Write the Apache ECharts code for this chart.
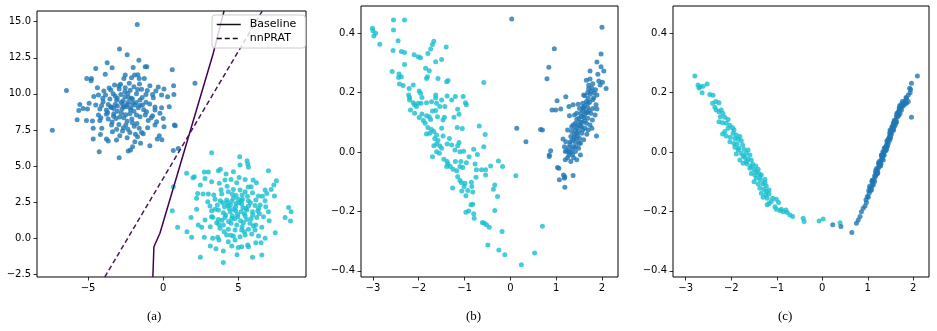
<!DOCTYPE html>
<html lang="en">
<head>
    <meta charset="UTF-8">
    <title>blobs / projections</title>
    <script src="https://cdn.jsdelivr.net/npm/echarts@6/dist/echarts.min.js"></script>
    <style>
        body { margin: 0; background: #fff; }
        #main { width: 937px; height: 331px; }
    </style>
</head>
<body>
<div id="main"></div>
<script>
    // (a) two gaussian blobs + decision lines
    let blobsBlue = [
        [-1.73,14.81],[-2.91,13.10],[-2.40,12.71],[-1.62,12.32],[-3.73,12.16],[-4.49,11.76],[-3.40,11.81],[-2.00,11.83],
        [-1.20,11.88],[-1.09,11.88],[0.60,11.67],[-3.86,11.35],[-2.53,11.30],[-1.91,11.30],[-1.69,11.33],[-5.09,11.07],
        [-4.78,11.07],[-4.80,10.91],[-2.62,11.07],[-2.11,11.12],[-1.60,11.07],[-1.26,11.07],[-6.44,10.24],[-2.26,10.73],
        [-2.84,10.66],[-3.24,10.61],[-1.58,10.68],[-0.89,10.56],[-0.33,10.47],[0.05,10.33],[0.69,10.56],[-4.38,10.43],
        [-3.95,10.19],[-3.49,10.26],[-2.93,10.33],[-2.53,10.43],[-1.95,10.49],[-1.44,10.31],[-1.06,10.24],[-0.49,10.19],
        [-4.31,9.92],[-3.84,9.92],[-3.33,10.01],[-2.82,9.96],[-2.35,10.03],[-1.78,10.01],[-1.15,9.96],[-0.71,9.96],
        [-0.11,9.92],[0.29,9.80],[0.71,9.96],[-4.62,9.82],[-4.02,9.69],[-3.55,9.64],[-3.06,9.69],[-2.66,9.52],
        [-2.13,9.69],[-1.55,9.57],[-1.15,9.41],[-0.66,9.73],[-4.00,9.46],[-3.66,9.27],[-3.20,9.27],[-2.80,9.41],
        [-2.33,9.41],[-1.89,9.22],[-1.38,9.22],[-5.55,9.27],[-4.93,9.34],[-4.49,9.22],[-0.55,9.09],[-0.11,9.04],
        [0.40,9.11],[-5.33,8.99],[-5.62,8.85],[-5.04,8.95],[-4.22,8.95],[-3.78,8.88],[-3.29,8.99],[-2.62,9.09],
        [-2.18,8.90],[-1.66,9.04],[-1.11,8.76],[-0.55,8.88],[-0.22,8.65],[-4.31,8.53],[-3.78,8.58],[-3.29,8.62],
        [-2.78,8.65],[-2.22,8.62],[-1.78,8.53],[-1.20,8.53],[-0.71,8.49],[-5.73,8.21],[-5.11,8.16],[-4.71,8.12],
        [-4.22,8.16],[-3.66,8.25],[-3.15,8.30],[-2.62,8.35],[-2.09,8.25],[-1.55,8.42],[-1.00,8.16],[-0.44,8.07],
        [0.00,8.30],[0.74,7.84],[0.80,7.79],[-4.66,7.61],[-4.09,7.61],[-3.44,7.84],[-2.95,7.88],[-2.49,7.84],
        [-1.93,7.75],[-1.60,7.61],[-1.04,7.65],[-0.55,7.84],[0.05,7.72],[-3.38,7.38],[-2.71,7.42],[-2.22,7.33],
        [-1.44,7.33],[-1.33,7.24],[-0.26,7.10],[-4.18,7.19],[-3.78,6.87],[-2.89,7.10],[-2.40,6.96],[-1.71,7.03],
        [-4.66,6.87],[-3.66,6.73],[-3.11,6.80],[-1.89,6.68],[-1.51,6.57],[-0.40,6.87],[-0.09,6.82],[-0.89,6.41],
        [-4.26,5.99],[-2.33,6.04],[-2.18,6.11],[-2.04,6.34],[0.67,6.08],[1.00,6.22],[-2.93,5.58],[-7.38,7.47],
        [2.11,10.73],[-2.45,9.10],[-2.75,8.95],[-2.05,9.35],[-3.05,8.80],[-2.50,8.55],[-1.95,8.80],[-2.30,9.75],
        [-3.10,9.55],[-2.55,10.15],[-3.50,9.10],[-1.40,9.75],
        [-3.70,8.70],[-3.45,9.05],[-3.05,9.15],[-2.70,9.25],[-2.40,9.25],[-2.15,9.05],[-1.80,9.40],[-1.55,9.20],
        [-3.30,8.45],[-2.90,8.40],[-2.40,8.10],[-2.05,8.00],[-1.75,7.95],[-2.65,7.65],[-3.10,7.55],[-2.35,7.55],
        [-1.85,7.20],[-2.05,9.65],[-2.55,9.80],[-3.20,9.85],[-3.60,10.40],[-2.95,10.55],[-2.20,10.25],[-1.70,10.30],
        [-4.10,9.20],[-4.15,8.35],[-3.40,8.05],[-1.30,8.90],[-0.90,9.30],[-0.80,8.35]
    ];
    let blobsCyan = [
        [3.22,5.92],[5.09,5.65],[5.58,5.37],[5.62,5.14],[5.67,4.91],[5.11,5.07],[7.00,4.68],[1.56,4.49],
        [2.07,4.26],[1.98,4.19],[2.73,4.58],[3.00,4.58],[3.67,4.68],[3.80,4.77],[4.18,4.44],[4.67,4.61],
        [5.05,4.21],[2.47,3.68],[2.78,4.14],[3.22,3.91],[3.73,3.80],[4.11,4.03],[4.51,4.07],[4.89,3.84],
        [5.45,4.07],[5.98,4.03],[6.20,3.84],[5.85,3.57],[6.78,3.34],[7.36,3.68],[7.53,3.98],[7.18,3.38],
        [2.29,3.10],[2.65,3.06],[3.00,3.06],[3.36,2.99],[3.89,3.06],[4.33,3.22],[4.67,3.38],[5.11,3.34],
        [5.45,3.22],[5.94,3.15],[6.34,2.92],[6.89,3.10],[7.40,2.92],[2.22,2.76],[2.96,2.53],[3.45,2.69],
        [3.80,2.60],[4.22,2.64],[4.67,2.76],[5.00,2.69],[5.27,2.69],[5.67,2.60],[6.16,2.64],[6.78,2.60],
        [3.11,2.23],[3.60,2.30],[4.07,2.18],[4.47,2.30],[4.82,2.18],[5.22,2.37],[5.67,2.23],[6.11,2.27],
        [6.45,2.30],[6.82,2.18],[0.60,1.90],[2.22,2.00],[3.22,1.90],[3.67,1.95],[4.00,1.77],[4.45,1.83],
        [4.82,1.90],[5.18,1.83],[5.56,1.95],[5.94,1.83],[6.29,1.90],[7.00,1.83],[8.34,2.13],[8.51,1.83],
        [1.85,1.44],[3.22,1.49],[3.67,1.30],[4.11,1.44],[4.56,1.37],[4.96,1.49],[5.45,1.53],[5.85,1.35],
        [6.22,1.44],[6.67,1.49],[7.05,1.21],[8.11,1.44],[8.47,1.19],[2.78,1.26],[3.56,1.07],[4.00,0.91],
        [4.51,1.03],[4.89,0.91],[5.33,1.07],[5.78,1.03],[6.16,0.91],[6.56,0.75],[0.96,0.75],[2.33,0.91],
        [2.56,0.75],[3.13,0.80],[3.78,0.68],[4.33,0.61],[4.78,0.56],[5.22,0.56],[5.67,0.61],[6.11,0.56],
        [7.45,0.38],[1.58,0.45],[2.73,0.06],[3.29,-0.01],[3.62,0.06],[4.22,0.22],[4.67,0.15],[5.11,0.10],
        [5.45,0.22],[5.89,0.29],[6.34,0.15],[1.89,0.06],[6.78,-0.01],[4.33,-0.24],[4.78,-0.13],[3.71,-0.13],
        [3.13,-0.54],[3.51,-0.73],[4.00,-0.89],[4.56,-0.54],[5.00,-0.64],[5.22,-0.59],[5.62,-0.47],[5.67,-0.59],
        [6.16,-0.31],[6.51,-0.31],[2.47,-1.33],[4.91,-1.14],[5.94,-1.33],[6.56,-1.17],[4.00,-1.68],[0.67,3.57],
        [4.70,2.00],[5.05,2.45],[4.40,2.05],[4.95,1.65],[5.30,2.10],[4.60,1.55],[5.40,1.70],[4.25,2.45],
        [4.85,2.95],[5.60,2.90],
        [4.55,2.55],[4.85,2.40],[5.20,2.60],[4.30,2.25],[3.95,2.45],[5.80,2.45],[5.50,2.05],[4.15,1.60],
        [4.75,1.35],[5.15,1.20],[5.55,1.30],[4.35,1.15],[3.90,1.25],[5.95,1.60],[6.40,1.70],[4.60,3.05],
        [5.25,3.00],[3.45,2.00],[3.30,1.45],[4.05,0.45],[5.40,0.45],[6.00,0.85],[4.50,0.20],[5.25,0.80],
        [6.35,2.05],[3.85,3.35],[5.65,3.55],[4.25,3.60],[6.60,2.90],[3.70,0.95]
    ];
    let baselineLine = [[-0.69,-2.69],[-0.62,-0.59],[-0.22,0.34],[3.33,12.81],[4.05,15.76]];
    let nnpratLine = [[-3.89,-2.69],[6.60,15.76]];

    // (b) first projection
    let pcaBlue = [
        [0.03,0.448],[2.00,0.420],[0.96,0.348],[0.84,0.286],[1.98,0.330],[1.89,0.303],[1.98,0.287],[1.91,0.262],
        [2.04,0.273],[0.80,0.247],[1.74,0.273],[1.66,0.242],[1.74,0.246],[1.93,0.239],[2.01,0.235],[1.96,0.226],
        [2.09,0.214],[1.71,0.213],[1.78,0.215],[1.69,0.201],[1.74,0.195],[1.60,0.192],[1.89,0.192],[1.82,0.183],
        [1.21,0.186],[1.02,0.173],[1.37,0.159],[1.28,0.153],[1.48,0.161],[1.58,0.164],[1.69,0.164],[1.80,0.176],
        [1.73,0.168],[1.87,0.159],[0.91,0.142],[0.99,0.142],[1.10,0.145],[1.51,0.147],[1.60,0.147],[1.69,0.150],
        [1.80,0.147],[1.89,0.145],[1.45,0.131],[1.54,0.131],[1.65,0.134],[1.76,0.131],[1.85,0.125],[1.29,0.122],
        [1.50,0.114],[1.60,0.116],[1.69,0.114],[1.79,0.108],[1.42,0.097],[1.56,0.100],[1.66,0.097],[1.74,0.091],
        [1.37,0.091],[1.45,0.082],[1.53,0.086],[1.63,0.080],[1.70,0.074],[1.78,0.080],[1.25,0.074],[1.34,0.069],
        [1.45,0.063],[1.56,0.063],[1.67,0.060],[1.32,0.052],[1.39,0.049],[1.51,0.046],[1.60,0.041],[1.88,0.054],
        [1.15,0.044],[1.21,0.035],[1.31,0.035],[1.42,0.033],[1.53,0.030],[1.18,0.018],[1.27,0.015],[1.38,0.018],
        [1.49,0.013],[1.20,0.002],[1.32,-0.001],[1.42,0.002],[1.53,-0.010],[1.25,-0.019],[1.38,-0.019],[1.45,-0.026],
        [1.20,-0.026],[1.32,-0.032],[0.88,0.004],[0.85,-0.010],[0.85,-0.015],[0.14,0.080],[0.66,0.076],[0.70,0.074],
        [0.34,0.035],[1.03,-0.052],[1.06,-0.055],[1.16,-0.077],[1.19,-0.083],[1.18,-0.088],[1.37,-0.079],[1.07,-0.093],
        [1.19,-0.119],[1.55,0.120],[1.62,0.105],[1.47,0.090],[1.58,0.075],[1.40,0.060],[1.50,0.030],[1.35,0.010],
        [1.62,0.155],[1.72,0.140],[1.44,0.045],[1.28,0.000],
        [1.45,0.110],[1.52,0.100],[1.58,0.140],[1.66,0.170],[1.70,0.180],[1.76,0.205],[1.83,0.200],[1.41,0.075],
        [1.47,0.055],[1.36,0.040],[1.43,0.018],[1.30,0.025],[1.23,0.005],[1.28,-0.010],[1.36,-0.008],[1.62,0.125],
        [1.68,0.132],[1.55,0.088],[1.49,0.070],[1.63,0.190],[1.71,0.225],[1.80,0.230],[1.86,0.210],[1.58,0.150],
        [1.40,0.125],[1.34,0.085]
    ];
    let pcaCyan = [
        [-3.01,0.417],[-3.00,0.409],[-2.94,0.400],[-2.98,0.391],[-2.85,0.363],[-2.55,0.445],[-2.31,0.445],[-2.55,0.411],
        [-2.45,0.375],[-2.56,0.342],[-2.38,0.339],[-2.31,0.335],[-2.10,0.328],[-2.01,0.321],[-1.96,0.318],[-1.67,0.373],
        [-1.70,0.362],[-1.74,0.347],[-1.80,0.332],[-1.40,0.354],[-1.63,0.304],[-1.50,0.312],[-2.31,0.295],[-2.58,0.271],
        [-2.43,0.263],[-2.44,0.251],[-2.38,0.254],[-1.85,0.282],[-1.77,0.274],[-1.83,0.248],[-1.81,0.254],[-1.58,0.248],
        [-1.39,0.237],[-1.36,0.241],[-0.58,0.234],[-2.42,0.229],[-2.34,0.224],[-2.12,0.226],[-2.21,0.214],[-1.99,0.206],
        [-1.96,0.198],[-2.22,0.192],[-2.20,0.184],[-1.93,0.184],[-1.63,0.192],[-1.63,0.182],[-1.50,0.175],[-1.38,0.189],
        [-1.20,0.187],[-1.03,0.187],[-2.20,0.175],[-2.12,0.166],[-2.09,0.159],[-2.01,0.164],[-2.05,0.153],[-2.18,0.142],
        [-2.09,0.131],[-1.95,0.164],[-1.83,0.166],[-1.72,0.169],[-1.61,0.164],[-1.54,0.153],[-1.43,0.153],[-1.70,0.138],
        [-1.63,0.140],[-1.28,0.175],[-1.15,0.144],[-0.98,0.166],[-0.96,0.159],[-1.93,0.128],[-1.83,0.122],[-1.77,0.119],
        [-1.99,0.116],[-1.90,0.106],[-1.86,0.097],[-1.74,0.110],[-1.59,0.119],[-1.44,0.117],[-1.47,0.108],[-1.23,0.117],
        [-1.12,0.127],[-1.80,0.083],[-1.72,0.076],[-1.67,0.069],[-1.76,0.063],[-1.61,0.057],[-1.50,0.080],[-1.16,0.083],
        [-1.05,0.079],[-0.68,0.088],[-0.55,0.059],[-1.83,0.061],[-1.65,0.046],[-1.58,0.039],[-1.47,0.054],[-1.33,0.046],
        [-1.61,0.027],[-1.54,0.021],[-1.67,0.021],[-1.50,0.013],[-1.38,0.027],[-1.28,0.024],[-1.12,0.032],[-1.15,0.021],
        [-1.21,0.007],[-1.10,0.001],[-1.02,0.003],[-0.80,0.009],[-0.72,-0.008],[-0.58,0.018],[-1.70,-0.016],[-1.61,0.001],
        [-1.55,-0.004],[-1.45,-0.024],[-1.38,-0.032],[-1.36,-0.040],[-1.31,-0.049],[-1.25,-0.058],[-1.17,-0.063],[-1.39,-0.049],
        [-1.20,-0.032],[-1.10,-0.049],[-1.08,-0.032],[-0.90,-0.016],[-0.96,-0.036],[-1.04,-0.052],[-0.77,-0.040],[-0.74,-0.060],
        [-0.63,-0.060],[-0.54,-0.060],[-0.43,-0.047],[-0.26,-0.030],[-0.17,-0.049],[-0.54,-0.077],[-0.75,-0.085],[-1.15,-0.083],
        [-1.10,-0.096],[-1.07,-0.103],[-0.99,-0.105],[-0.85,-0.102],[-0.84,-0.116],[-0.93,-0.130],[-0.82,-0.135],[-1.01,-0.116],
        [-1.26,-0.121],[-1.06,-0.131],[-0.97,-0.147],[-0.86,-0.178],[-0.82,-0.176],[-0.91,-0.199],[-0.97,-0.203],[-0.80,-0.208],
        [-0.79,-0.223],[-0.61,-0.237],[-0.57,-0.240],[-0.52,-0.245],[-0.46,-0.253],[-0.34,-0.197],[-0.37,-0.125],[-0.34,-0.111],
        [-0.28,-0.150],[-0.18,-0.268],[-0.49,-0.313],[-0.25,-0.330],[-0.12,-0.346],[0.12,-0.080],[0.24,-0.380],[0.53,-0.340],
        [0.70,-0.250]
    ];

    // (c) second projection
    let prjBlue = [
        [0.65,-0.271],[0.75,-0.240],[0.79,-0.229],[0.83,-0.217],[0.86,-0.201],[0.90,-0.189],[0.94,-0.182],[0.97,-0.170],
        [0.96,-0.161],[1.01,-0.152],[1.03,-0.139],[1.06,-0.130],[1.08,-0.119],[1.11,-0.108],[1.09,-0.100],[1.13,-0.094],
        [1.16,-0.085],[1.18,-0.077],[1.19,-0.072],[1.21,-0.063],[1.23,-0.055],[1.25,-0.047],[1.27,-0.038],[1.28,-0.032],
        [1.30,-0.024],[1.33,-0.015],[1.34,-0.010],[1.35,-0.002],[1.38,0.007],[1.40,0.016],[1.41,0.024],[1.43,0.032],
        [1.45,0.041],[1.47,0.050],[1.49,0.057],[1.50,0.065],[1.52,0.072],[1.55,0.080],[1.56,0.088],[1.57,0.097],
        [1.60,0.102],[1.62,0.110],[1.63,0.119],[1.65,0.128],[1.67,0.135],[1.69,0.142],[1.71,0.147],[1.74,0.155],
        [1.78,0.164],[1.82,0.173],[1.79,0.166],[1.85,0.181],[1.89,0.192],[1.93,0.200],[1.94,0.211],[1.96,0.117],
        [2.09,0.256],[1.25,-0.032],[1.18,-0.060],[1.05,-0.122],[0.99,-0.150],[1.12,-0.111],[1.33,0.001],[1.38,0.016],
        [1.41,0.009],[1.49,0.050],[1.56,0.074],[1.60,0.091],[1.63,0.102],[1.67,0.125],[1.71,0.130],[1.74,0.142],
        [1.78,0.155],[1.82,0.162],[1.21,-0.072],[1.28,-0.047],[1.45,0.029],[1.52,0.061],[1.30,-0.010],[1.34,-0.027],
        [1.56,0.097],[1.49,0.074],[1.85,0.164],[1.89,0.170],[1.84,0.184],[0.23,-0.245],[0.41,-0.251],
        [1.36,0.000],[1.42,0.020],[1.46,0.045],[1.51,0.070],[1.54,0.085],[1.59,0.105],[1.64,0.125],[1.69,0.148],
        [1.73,0.160],[1.24,-0.040],[1.20,-0.055],[1.15,-0.080],[1.10,-0.095],[1.04,-0.115],[1.32,-0.020],[1.40,0.005],
        [1.48,0.040],[1.58,0.085],[1.66,0.120],[1.76,0.170],[1.96,0.232],[1.92,0.215],
        [1.02,-0.130],[1.10,-0.096],[1.17,-0.067],[1.24,-0.037],[1.30,-0.012],[1.36,0.013],[1.42,0.038],[1.48,0.064],
        [1.53,0.085],[1.58,0.106],[1.64,0.131],[1.70,0.156],[1.08,-0.128],[1.15,-0.099],[1.22,-0.070],[1.29,-0.040],
        [1.36,-0.011],[1.43,0.019],[1.50,0.048],[1.56,0.073],[1.62,0.098],[1.68,0.124],[1.75,0.153]
    ];
    let prjCyan = [
        [-2.80,0.256],[-2.73,0.226],[-2.68,0.220],[-2.62,0.222],[-2.53,0.229],[-2.71,0.216],[-2.64,0.200],[-2.47,0.194],
        [-2.40,0.191],[-2.41,0.164],[-2.34,0.170],[-2.27,0.166],[-2.36,0.151],[-2.33,0.142],[-2.27,0.136],[-2.22,0.142],
        [-2.18,0.130],[-2.24,0.119],[-2.14,0.117],[-2.07,0.110],[-2.27,0.102],[-2.19,0.099],[-2.11,0.097],[-2.03,0.090],
        [-1.97,0.082],[-2.07,0.080],[-1.94,0.074],[-2.14,0.069],[-2.19,0.061],[-2.11,0.054],[-2.02,0.050],[-1.92,0.046],
        [-1.85,0.043],[-1.78,0.038],[-1.96,0.063],[-1.89,0.057],[-1.81,0.052],[-2.03,0.035],[-1.94,0.029],[-1.87,0.027],
        [-1.75,0.024],[-1.92,0.016],[-1.83,0.013],[-1.72,0.009],[-1.63,0.007],[-1.67,-0.004],[-1.78,-0.004],[-1.89,-0.007],
        [-1.59,-0.010],[-1.70,-0.018],[-1.81,-0.027],[-1.63,-0.024],[-1.56,-0.027],[-1.74,-0.038],[-1.65,-0.040],[-1.53,-0.040],
        [-1.46,-0.047],[-1.59,-0.055],[-1.50,-0.060],[-1.41,-0.058],[-1.56,-0.072],[-1.48,-0.077],[-1.39,-0.072],[-1.34,-0.077],
        [-1.45,-0.088],[-1.36,-0.094],[-1.26,-0.092],[-1.50,-0.100],[-1.41,-0.108],[-1.31,-0.108],[-1.23,-0.114],[-1.37,-0.122],
        [-1.28,-0.125],[-1.17,-0.128],[-1.34,-0.139],[-1.24,-0.145],[-1.17,-0.141],[-1.30,-0.152],[-1.21,-0.156],[-1.09,-0.156],
        [-1.01,-0.159],[-0.96,-0.170],[-1.17,-0.173],[-1.21,-0.178],[-1.04,-0.184],[-1.01,-0.193],[-0.93,-0.197],[-0.86,-0.201],
        [-0.80,-0.195],[-0.77,-0.204],[-0.71,-0.212],[-0.65,-0.217],[-0.42,-0.223],[-0.40,-0.234],[-0.07,-0.232],[0.02,-0.226],
        [-1.85,0.007],[-1.74,-0.013],[-1.67,-0.032],[-1.56,-0.049],[-1.45,-0.066],[-1.37,-0.083],[-1.26,-0.103],[-1.23,-0.133],
        [-1.12,-0.167],[-0.90,-0.193],[0.39,-0.238]
    ];

    let ticksAX = [-5, 0, 5];
    let ticksAY = [-2.5, 0, 2.5, 5, 7.5, 10, 12.5, 15];
    let ticksBX = [-3, -2, -1, 0, 1, 2];
    let ticksBY = [-0.4, -0.2, 0, 0.2, 0.4];

    let BLUE = '#1f77b4', CYAN = '#17becf';

    function fmt(d) {
        return v => (v < 0 ? '\u2212' : '') + Math.abs(v).toFixed(d);
    }
    function axis(idx, min, max, ticks, digits) {
        return {
            type: 'value', gridIndex: idx, min: min, max: max,
            splitLine: { show: false },
            axisLine: { show: false, onZero: false },
            axisTick: { show: true, length: 3.5, customValues: ticks, lineStyle: { color: '#000', width: 0.8 } },
            axisLabel: {
                customValues: ticks, formatter: fmt(digits), margin: 6,
                color: '#000', fontSize: 10, fontFamily: 'DejaVu Sans'
            }
        };
    }
    function dots(idx, data, color) {
        return {
            type: 'scatter', xAxisIndex: idx, yAxisIndex: idx, data: data,
            symbolSize: 5, itemStyle: { color: color, opacity: 0.8 }, silent: true
        };
    }

    let myChart = echarts.init(document.getElementById('main'), null, { renderer: 'canvas' });
    let gridBox = { show: true, borderColor: '#000', borderWidth: 1, backgroundColor: 'transparent' };
    let option = {
        animation: false,
        backgroundColor: '#fff',
        grid: [
            Object.assign({ left: 37, top: 11, width: 269, height: 266 }, gridBox),
            Object.assign({ left: 361, top: 6, width: 257, height: 271 }, gridBox),
            Object.assign({ left: 673, top: 6, width: 256, height: 271 }, gridBox)
        ],
        xAxis: [
            axis(0, -8.4, 9.5, ticksAX, 0),
            axis(1, -3.26, 2.35, ticksBX, 0),
            axis(2, -3.28, 2.345, ticksBX, 0)
        ],
        yAxis: [
            axis(0, -2.69, 15.74, ticksAY, 1),
            axis(1, -0.421, 0.492, ticksBY, 1),
            axis(2, -0.421, 0.492, ticksBY, 1)
        ],
        legend: {
            data: ['Baseline', 'nnPRAT'],
            orient: 'vertical', left: 212, top: 15,
            padding: [4, 9, 4, 4], itemGap: 3,
            itemWidth: 24, itemHeight: 2,
            itemStyle: { opacity: 0 },
            lineStyle: { color: '#111', width: 1.5 },
            backgroundColor: 'rgba(255,255,255,0.8)',
            borderColor: '#cccccc', borderWidth: 1, borderRadius: 3,
            textStyle: { color: '#000', fontSize: 11, fontFamily: 'DejaVu Sans', padding: [0, 0, 0, 4] }
        },
        graphic: [
            { type: 'text', left: 147, top: 310, style: { text: '(a)', font: '13px "Liberation Serif"', fill: '#000' } },
            { type: 'text', left: 466, top: 310, style: { text: '(b)', font: '13px "Liberation Serif"', fill: '#000' } },
            { type: 'text', left: 778, top: 310, style: { text: '(c)', font: '13px "Liberation Serif"', fill: '#000' } }
        ],
        series: [
            dots(0, blobsBlue, BLUE),
            dots(0, blobsCyan, CYAN),
            {
                name: 'Baseline', type: 'line', xAxisIndex: 0, yAxisIndex: 0,
                data: baselineLine, symbol: 'none', silent: true,
                lineStyle: { color: '#440154', width: 1.5 }, itemStyle: { color: '#440154' }
            },
            {
                name: 'nnPRAT', type: 'line', xAxisIndex: 0, yAxisIndex: 0,
                data: nnpratLine, symbol: 'none', silent: true,
                lineStyle: { color: '#481567', width: 1.5, type: [5, 3] }, itemStyle: { color: '#481567' }
            },
            dots(1, pcaCyan, CYAN),
            dots(1, pcaBlue, BLUE),
            dots(2, prjCyan, CYAN),
            dots(2, prjBlue, BLUE)
        ]
    };
    myChart.setOption(option);
</script>
</body>
</html>
